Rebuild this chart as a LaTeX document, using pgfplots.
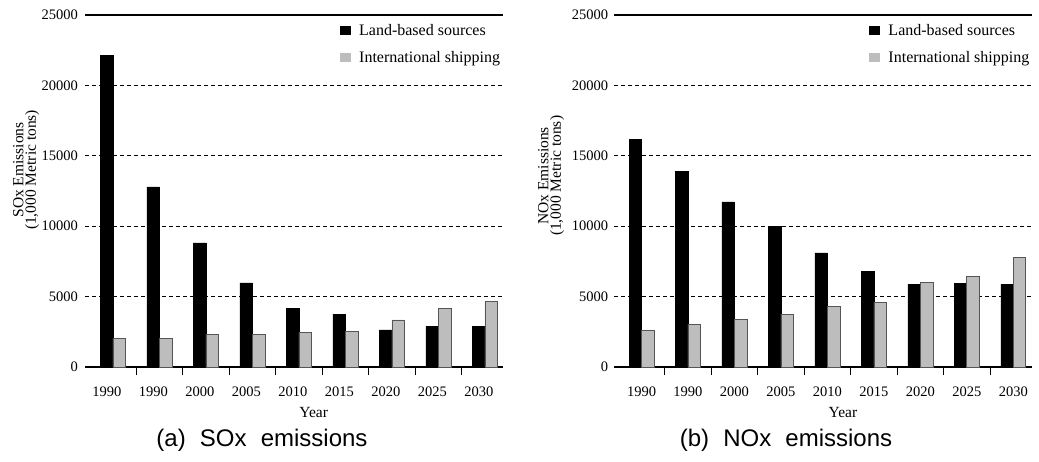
\documentclass[border=0pt]{standalone}
\usepackage{fontspec}
\setmainfont{Liberation Serif}
\newfontfamily\capfont{Liberation Sans}
\usepackage{pgfplots}
\usepackage{pgfplotstable}
\pgfplotsset{compat=1.18}
\definecolor{shipgray}{HTML}{BDBDBD}
\definecolor{shipedge}{HTML}{555555}

\pgfplotstableread{
x land ship
0 22150 2020
1 12800 2020
2 8820 2300
3 5980 2300
4 4150 2440
5 3750 2510
6 2630 3340
7 2870 4170
8 2870 4660
}\soxdata
\pgfplotstableread{
x land ship
0 16170 2620
1 13900 3020
2 11720 3400
3 10000 3760
4 8100 4330
5 6810 4600
6 5880 6020
7 5950 6430
8 5880 7810
}\noxdata

\pgfplotsset{
  emstyle/.style={
    scale only axis, width=418pt, height=352pt,
    ymin=0, ymax=25000, ytick={0,5000,...,25000},
    ybar=0pt, bar width=12.5pt,
    xtick={0,...,8},
    xticklabels={1990,1990,2000,2005,2010,2015,2020,2025,2030},
    extra x ticks={0.5,1.5,...,7.5}, extra x tick labels={},
    extra x tick style={major tick length=8pt, tick align=outside, tick style={line width=0.8pt, black}},
    major tick length=0pt,
    tick pos=left,
    separate axis lines,
    y axis line style={draw=none},
    x axis line style={line width=1.1pt},
    ymajorgrids,
    grid style={black, line width=0.9pt, dash pattern=on 4pt off 3pt},
    scaled y ticks=false,
    /pgf/number format/1000 sep={},
    /pgf/number format/assume math mode=true,
    tick label style={font=\fontsize{14.5}{16}\selectfont},
    yticklabel style={anchor=east, inner sep=0pt},
    xticklabel style={anchor=center, yshift=-25pt},
    xlabel={Year},
    xlabel style={at={(axis description cs:0.547,0)}, anchor=center, yshift=-46pt, font=\fontsize{15.5}{17}\selectfont},
    ylabel style={anchor=center, align=center, font=\fontsize{15.5}{12.5}\selectfont},
    legend style={draw=none, fill=none, at={(axis description cs:0.61,0.975)}, anchor=north west,
      font=\fontsize{16}{18}\selectfont, row sep=15pt, inner sep=0pt, nodes={inner sep=0pt},
      /tikz/every odd column/.append style={column sep=8pt}},
    legend cell align=left,
    legend image code/.code={\path[#1,draw=none] (0pt,-4.5pt) rectangle (11pt,4.5pt);},
  }
}

\begin{document}
\begin{tikzpicture}
\path[use as bounding box] (0pt,0pt) rectangle (1039pt,461pt);

\begin{axis}[emstyle,
  at={(85pt,94pt)}, anchor=south west,
  xmin=-0.602, xmax=8.39,
  yticklabel style={xshift=-7pt},
  xticklabel style={xshift=-6pt},
  ylabel={SOx Emissions\\(1,000 Metric tons)},
  ylabel style={at={(axis description cs:-0.141,0.56)}},
]
\addplot[fill=black, draw=black, line width=0.5pt] table[x=x,y=land]{\soxdata};
\addplot[fill=shipgray, draw=shipedge, line width=0.6pt] table[x=x,y=ship]{\soxdata};
\legend{Land-based sources, International shipping}
\end{axis}

\begin{axis}[emstyle,
  at={(614.3pt,94pt)}, anchor=south west,
  xmin=-0.586, xmax=8.41,
  yticklabel style={xshift=-6pt},
  ylabel={NOx Emissions\\(1,000 Metric tons)},
  ylabel style={at={(axis description cs:-0.151,0.543)}},
]
\addplot[fill=black, draw=black, line width=0.5pt] table[x=x,y=land]{\noxdata};
\addplot[fill=shipgray, draw=shipedge, line width=0.6pt] table[x=x,y=ship]{\noxdata};
\legend{Land-based sources, International shipping}
\end{axis}

\node[anchor=base, font=\capfont\fontsize{24}{28}\selectfont] at (262pt,15pt) {(a)\hspace{0.59em}SOx\hspace{0.59em}emissions};
\node[anchor=base, font=\capfont\fontsize{24}{28}\selectfont] at (786pt,15pt) {(b)\hspace{0.59em}NOx\hspace{0.59em}emissions};
\end{tikzpicture}
\end{document}
